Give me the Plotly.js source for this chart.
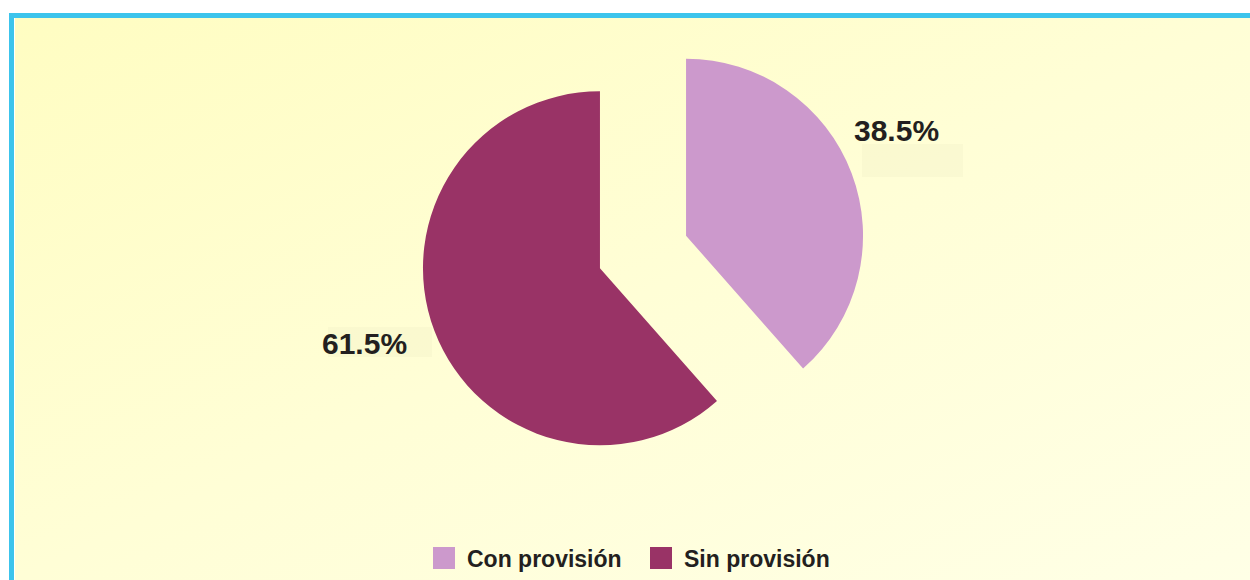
<!DOCTYPE html>
<html><head><meta charset="utf-8">
<script src="https://cdn.plot.ly/plotly-3.0.1.min.js"></script>
<style>
html,body{margin:0;padding:0;background:#fff;}
#wrap{position:relative;width:1250px;height:580px;overflow:hidden;background:#fff;}
#frame{position:absolute;left:9px;top:13px;right:0;bottom:0;border-left:5px solid #3CC4EC;border-top:5px solid #3CC4EC;}
#bg{position:absolute;left:15px;top:18px;right:0;bottom:0;background:linear-gradient(to bottom right,#FFFDC2 0%,#FFFED6 50%,#FFFFE6 100%);}
#chart{position:absolute;left:0;top:0;width:1250px;height:580px;}
</style></head><body>
<div id="wrap"><div id="frame"></div><div id="bg"></div><div id="chart"></div></div>
<script>
const labels = ['Con provisión', 'Sin provisión'];
const values = [38.5, 61.5];
const colors = ['#CC99CC', '#993366'];
const pulls = [0.26, 0.26];

const W = 1250, H = 580;
const font = 'Liberation Sans, Arial, sans-serif';

// percentage label placements (paper coords) and legend layout
const pctPos = [
  {x: 852 / W, y: 1 - 130 / H, xanchor: 'left'},
  {x: 409 / W, y: 1 - 343 / H, xanchor: 'right'}
];
// faint label boxes (px): [x0, y0, x1, y1]
const labelBoxes = [[862, 144, 963, 177], [328, 327, 432, 357]];
const legendX = [433, 650];   // square left edges in px
const legendTop = 547, sq = 22, legendGap = 10;

const shapes = labelBoxes.map(b => ({
  type: 'rect', xref: 'paper', yref: 'paper', layer: 'below',
  x0: b[0] / W, x1: b[2] / W, y0: 1 - b[3] / H, y1: 1 - b[1] / H,
  fillcolor: 'rgba(225,225,190,0.18)', line: {width: 0}
}));
const annotations = values.map((v, i) => ({
  text: '<b>' + v.toFixed(1) + '%</b>',
  xref: 'paper', yref: 'paper',
  x: pctPos[i].x, y: pctPos[i].y,
  xanchor: pctPos[i].xanchor, yanchor: 'middle',
  showarrow: false,
  font: {family: font, size: 30, color: '#231F20'}
}));
labels.forEach((lab, i) => {
  const x0 = legendX[i];
  shapes.push({
    type: 'rect', xref: 'paper', yref: 'paper',
    x0: x0 / W, x1: (x0 + sq) / W,
    y0: 1 - (legendTop + sq) / H, y1: 1 - legendTop / H,
    fillcolor: colors[i], line: {width: 0}
  });
  annotations.push({
    text: '<b>' + lab + '</b>',
    xref: 'paper', yref: 'paper',
    x: (x0 + sq + legendGap) / W, y: 1 - (legendTop + sq / 2 + 1) / H,
    xanchor: 'left', yanchor: 'middle', showarrow: false,
    font: {family: font, size: 23, color: '#231F20'}
  });
});

const data = [{
  type: 'pie',
  labels: labels,
  values: values,
  marker: {colors: colors, line: {width: 0}},
  pull: pulls,
  sort: false,
  direction: 'clockwise',
  rotation: 0,
  textinfo: 'none',
  hoverinfo: 'label+percent',
  showlegend: false,
  domain: {x: [0.3360, 0.6928], y: [0.181, 0.950]}
}];

const layout = {
  width: W, height: H,
  margin: {l: 0, r: 0, t: 0, b: 0},
  paper_bgcolor: 'rgba(0,0,0,0)',
  plot_bgcolor: 'rgba(0,0,0,0)',
  showlegend: false,
  annotations: annotations,
  shapes: shapes
};

Plotly.newPlot('chart', data, layout, {displayModeBar: false, staticPlot: true});
</script>
</body></html>
